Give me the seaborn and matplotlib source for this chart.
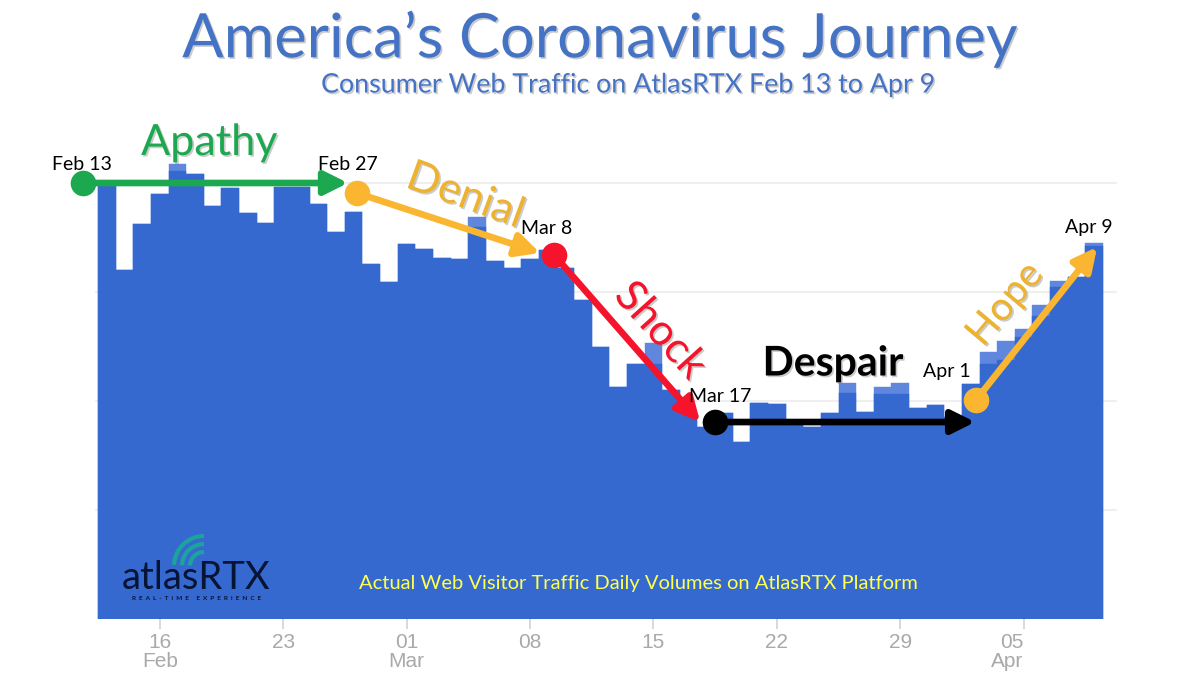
import matplotlib
matplotlib.use("Agg")
import matplotlib.pyplot as plt
import matplotlib.patheffects as pe
from matplotlib.patches import Arc
import pandas as pd
import seaborn as sns

# Daily visitor volumes, Feb 13 to Apr 9 2020
days = pd.date_range("2020-02-13", "2020-04-09").strftime("%Y-%m-%d").tolist()
dark_values = [4000, 3202, 3624, 3899, 4110, 4083, 3789, 3954, 3725, 3633,
               3963, 3963, 3807, 3550, 3734, 3257, 3092, 3440, 3394, 3312,
               3303, 3596, 3284, 3220, 3303, 3385, 3220, 2927, 2495, 2128,
               2339, 2339, 2101, 1890, 1761, 1890, 1624, 1982, 1972, 1826,
               1761, 1890, 2073, 1899, 2064, 2064, 1936, 1963, 1853, 2156,
               2340, 2376, 2587, 2780, 3045, 3138, 3422]
# days where a lighter cap shows above the dark bar
cap_days = [4, 21, 31, 42, 44, 45, 50, 51, 52, 53, 54, 56]
cap_tops = [4174, 3688, 2532, 2165, 2128, 2165, 2450, 2550, 2661, 2881, 3101, 3450]

tick_days = [3, 10, 17, 24, 31, 38, 45, 52]
tick_labels = ["16\nFeb", "23", "01\nMar", "08", "15", "22", "29", "05\nApr"]
grid_values = [1000, 2000, 3000, 4000]

# Journey stages: (start day, start level, end day, end level, colour)
stage_start_x = [-1.35, 14.19, 25.37, 34.50, 49.30]
stage_start_y = [4000, 3908, 3339, 1807, 2009]
stage_end_x = [13.68, 24.57, 33.65, 49.25, 56.17]
stage_end_y = [4000, 3358, 1807, 1807, 3413]
stage_colors = ["#1BA84F", "#FBB631", "#F5142B", "#000000", "#FBB631"]

total_values = list(dark_values)
for d, v in zip(cap_days, cap_tops):
    total_values[d] = v
df = pd.DataFrame({"day": days, "dark": dark_values, "total": total_values})

sns.set_style("white")
plt.rcParams["font.family"] = ["Lato", "DejaVu Sans"]

fig = plt.figure(figsize=(12, 6.75), dpi=100)
W, H = 1200.0, 675.0
ax = fig.add_axes([94.5 / W, 1 - 619 / H, 1022.6 / W, 490.5 / H])

BAR_DARK = "#3669D0"
BAR_LIGHT = "#5F87DE"
sns.barplot(data=df, x="day", y="total", order=days, color=BAR_LIGHT, width=1,
            saturation=1, edgecolor=BAR_LIGHT, linewidth=0.3, ax=ax, zorder=2)
sns.barplot(data=df, x="day", y="dark", order=days, color=BAR_DARK, width=1,
            saturation=1, edgecolor=BAR_DARK, linewidth=0.3, ax=ax, zorder=3)

ax.set_xlim(-0.7, 57.3)
ax.set_ylim(0, 4500)
ax.set_xlabel("")
ax.set_ylabel("")
ax.set_yticks(grid_values)
ax.set_yticklabels([])
ax.tick_params(axis="y", length=0)
ax.yaxis.grid(True, color="#EFEFEF", lw=1.5, zorder=0)
ax.xaxis.grid(False)
ax.set_axisbelow(True)
sns.despine(ax=ax, left=True, bottom=True, top=True, right=True)

ax.set_xticks(tick_days)
ax.set_xticklabels(tick_labels, fontfamily="Liberation Sans", fontsize=15,
                   color="#A9A9A9", linespacing=1.0)
ax.tick_params(axis="x", length=7, width=1.4, color="#D8D8D8", pad=3, bottom=True)
# last label sits flush against its tick, as in the web chart
ax.get_xticklabels()[-1].set_ha("right")
ax.get_xticklabels()[-1].set_multialignment("right")

# stage arrows and the dots that start them
for i in range(len(stage_colors)):
    ax.annotate("", xy=(stage_end_x[i], stage_end_y[i]),
                xytext=(stage_start_x[i], stage_start_y[i]),
                annotation_clip=False, zorder=6,
                arrowprops=dict(arrowstyle="-|>,head_length=1.0,head_width=0.5",
                                mutation_scale=14, lw=4.8, color=stage_colors[i],
                                shrinkA=0, shrinkB=0))
    ax.scatter(stage_start_x[i], stage_start_y[i], s=340, color=stage_colors[i],
               clip_on=False, zorder=7, linewidths=0)

# overlay in image pixels for all the slide text
over = fig.add_axes([0, 0, 1, 1], facecolor="none", zorder=10)
over.set_xlim(0, W)
over.set_ylim(H, 0)
over.axis("off")

shadow = [pe.withSimplePatchShadow(offset=(1.2, -1.2), shadow_rgbFace="#7F7F7F", alpha=0.4)]

over.text(600, 39, "America’s Coronavirus Journey", ha="center", va="center",
          fontsize=44.2, color="#4472C4", path_effects=shadow)
over.text(628, 85, "Consumer Web Traffic on AtlasRTX Feb 13 to Apr 9", ha="center",
          va="center", fontsize=19.3, color="#4472C4", path_effects=shadow)

stage_names = ["Apathy", "Denial", "Shock", "Despair", "Hope"]
name_x = [209, 465, 660, 833, 1005]
name_y = [143, 196, 331, 364, 304]
name_rot = [0, -20, -48, 0, 50]
name_sizes = [31, 31, 31, 29.5, 28.5]
name_colors = ["#1BA84F", "#EDB32E", "#F5142B", "#000000", "#EDB32E"]
for n, x, y, r, s, c in zip(stage_names, name_x, name_y, name_rot, name_sizes, name_colors):
    over.text(x, y, n, ha="center", va="center", rotation=r, fontsize=s, color=c,
              fontweight="bold" if n == "Despair" else "normal", path_effects=shadow,
              rotation_mode="anchor")

date_names = ["Feb 13", "Feb 27", "Mar 8", "Mar 17", "Apr 1", "Apr 9"]
date_x = [82, 348, 547, 720, 947, 1089]
date_y = [165, 165, 228, 397, 372, 228]
for n, x, y in zip(date_names, date_x, date_y):
    over.text(x, y, n, ha="center", va="center", fontsize=14, color="black")

over.text(638, 583, "Actual Web Visitor Traffic Daily Volumes on AtlasRTX Platform",
          ha="center", va="center", fontsize=14.5, color="#FFFF4D")

# logo
over.text(196, 578, "atlasRTX", ha="center", va="center", fontsize=27.5, color="#071433")
over.text(197, 599, "R  E  A  L  -  T  I  M  E     E  X  P  E  R  I  E  N  C  E", ha="center",
          va="center", fontsize=4.6, color="#071433", fontweight="bold")
for r in [14, 22, 30]:
    over.add_patch(Arc((204, 566), 2 * r, 2 * r, theta1=182, theta2=270,
                       color="#1BA39C", lw=3.0))

fig.savefig("out.png", dpi=100)
